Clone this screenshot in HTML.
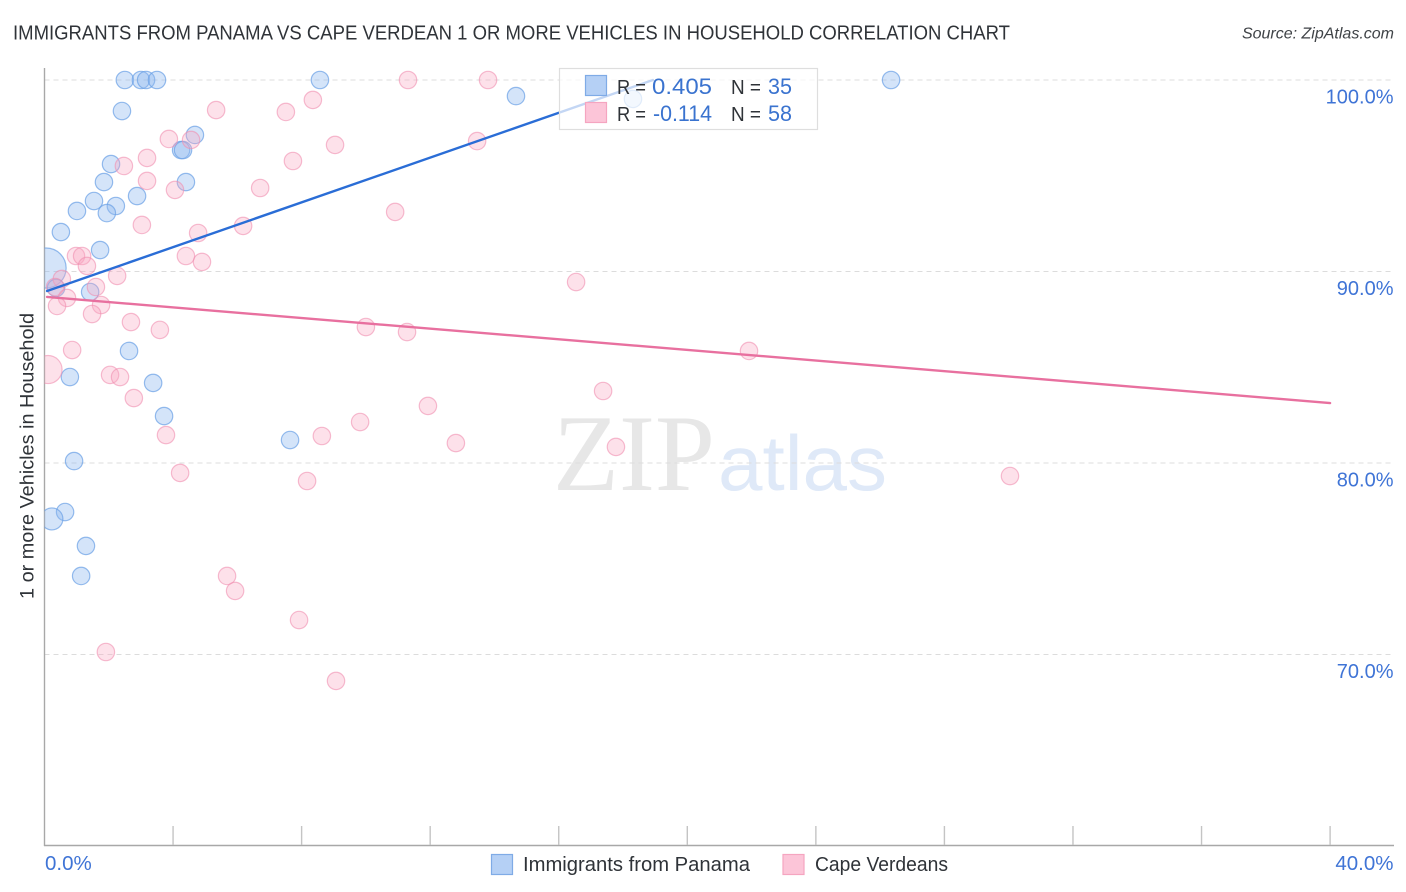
<!DOCTYPE html>
<html lang="en">
<head>
<meta charset="utf-8">
<title>Immigrants from Panama vs Cape Verdean correlation chart</title>
<style>
html,body{margin:0;padding:0;background:#fff;width:1406px;height:892px;overflow:hidden}
svg{display:block;font-family:"Liberation Sans",sans-serif}
</style>
</head>
<body>
<svg id="chart" xmlns="http://www.w3.org/2000/svg" width="1406" height="892" viewBox="0 0 1406 892">
  <defs>
    <clipPath id="plot-clip"><rect x="44.5" y="60" width="1350" height="786"/></clipPath>
  </defs>
  <text x="13" y="39.5" font-size="20" fill="#2f3338" textLength="997" lengthAdjust="spacingAndGlyphs">IMMIGRANTS FROM PANAMA VS CAPE VERDEAN 1 OR MORE VEHICLES IN HOUSEHOLD CORRELATION CHART</text>
  <text x="1394" y="38.5" font-size="16" font-style="italic" fill="#3f4347" text-anchor="end">Source: ZipAtlas.com</text>

  <g>
    <text x="553" y="490" font-family="'Liberation Serif',serif" font-size="109" fill="#e7e7e7" textLength="162" lengthAdjust="spacingAndGlyphs">ZIP</text>
    <text x="718" y="490" font-size="78" fill="#dfe9f8" textLength="169" lengthAdjust="spacingAndGlyphs">atlas</text>
  </g>

  <g id="grid"></g>
  <g id="axes"></g>
  <g id="points-blue" clip-path="url(#plot-clip)"></g>
  <g id="points-pink" clip-path="url(#plot-clip)"></g>
  <g id="trends"></g>
  <g id="labels"></g>

  <text transform="translate(33.5 456) rotate(-90)" font-size="19.5" fill="#2f3338" text-anchor="middle" textLength="286" lengthAdjust="spacingAndGlyphs">1 or more Vehicles in Household</text>

  <g>
    <rect x="559.5" y="68.5" width="258" height="61" fill="#fff" fill-opacity="0.72" stroke="#dedede" stroke-width="1.2"/>
    <rect x="585.5" y="75.5" width="21" height="20" fill="#b5d0f5" stroke="#7fabe6" stroke-width="1.2"/>
    <rect x="585.5" y="102.5" width="21" height="20" fill="#fcc5d8" stroke="#f5a5c0" stroke-width="1.2"/>
    <text x="617" y="94" font-size="20" fill="#2f3338" textLength="29" lengthAdjust="spacingAndGlyphs">R =</text>
    <text x="652" y="94" font-size="22" fill="#3a73cf" textLength="60" lengthAdjust="spacingAndGlyphs">0.405</text>
    <text x="731" y="94" font-size="20" fill="#2f3338" textLength="30" lengthAdjust="spacingAndGlyphs">N =</text>
    <text x="768" y="94" font-size="22" fill="#3a73cf" textLength="24" lengthAdjust="spacingAndGlyphs">35</text>
    <text x="617" y="121" font-size="20" fill="#2f3338" textLength="29" lengthAdjust="spacingAndGlyphs">R =</text>
    <text x="653" y="121" font-size="22" fill="#3a73cf" textLength="59" lengthAdjust="spacingAndGlyphs">-0.114</text>
    <text x="731" y="121" font-size="20" fill="#2f3338" textLength="30" lengthAdjust="spacingAndGlyphs">N =</text>
    <text x="768" y="121" font-size="22" fill="#3a73cf" textLength="24" lengthAdjust="spacingAndGlyphs">58</text>
  </g>

  <g>
    <rect x="491.5" y="854.5" width="21" height="20" fill="#b5d0f5" stroke="#7fabe6" stroke-width="1.2"/>
    <text x="523" y="871" font-size="20" fill="#2f3338" textLength="227" lengthAdjust="spacingAndGlyphs">Immigrants from Panama</text>
    <rect x="783" y="854.5" width="21" height="20" fill="#fcc5d8" stroke="#f5a5c0" stroke-width="1.2"/>
    <text x="815" y="871" font-size="20" fill="#2f3338" textLength="133" lengthAdjust="spacingAndGlyphs">Cape Verdeans</text>
  </g>
</svg>

<script>
const yTicks = [100, 90, 80, 70];
const yTickLabels = ["100.0%", "90.0%", "80.0%", "70.0%"];
const xTicks = [4, 8, 12, 16, 20, 24, 28, 32, 36, 40];
const xEndTicks = [0, 40];
const xEndLabels = ["0.0%", "40.0%"];

const panamaX = [2.50,3.00,3.16,3.50,8.57,26.34,14.67,18.31,2.41,4.68,4.25,4.31,2.07,4.40,1.85,1.54,2.88,2.22,1.01,1.94,0.51,1.73,0.05,0.36,1.42,2.63,0.79,3.38,3.72,7.64,0.92,0.64,0.23,1.29,1.14];
const panamaY = [100,100,100,100,100,100,99.16,99.01,98.38,97.13,96.34,96.34,95.61,94.67,94.67,93.68,93.94,93.42,93.16,93.05,92.06,91.12,90.18,89.14,88.93,85.85,84.49,84.18,82.45,81.20,80.10,77.44,77.08,75.67,74.10];
const panamaWeight = [1,1,1,1,1,1,1,1,1,1,1,1,1,1,1,1,1,1,1,1,1,1,5.3,1,1,1,1,1,1,1,1,1,1.6,1,1];

const capeX = [11.31,13.80,8.35,7.51,5.34,9.04,13.46,3.87,4.56,3.19,2.47,7.73,3.19,4.06,6.71,10.91,3.03,4.78,6.18,4.40,4.90,0.98,1.17,1.32,0.54,2.26,16.54,0.33,1.60,0.70,0.39,1.76,1.48,2.69,3.59,10.00,11.28,0.86,21.92,0.11,2.04,2.35,17.38,2.78,11.93,9.82,8.63,3.78,12.80,17.78,4.22,8.17,30.04,5.68,5.93,7.92,1.91,9.07];
const capeY = [100,100,98.96,98.33,98.43,96.61,96.81,96.92,96.87,95.93,95.51,95.77,94.73,94.26,94.36,93.11,92.43,92.01,92.38,90.81,90.50,90.81,90.81,90.29,89.61,89.77,89.45,89.19,89.19,88.62,88.20,88.25,87.78,87.36,86.95,87.10,86.84,85.90,85.85,84.88,84.60,84.49,83.76,83.39,82.98,82.14,81.41,81.46,81.04,80.84,79.48,79.06,79.32,74.10,73.32,71.80,70.13,68.62];
const capeWeight = [1,1,1,1,1,1,1,1,1,1,1,1,1,1,1,1,1,1,1,1,1,1,1,1,1,1,1,1,1,1,1,1,1,1,1,1,1,1,1,2.6,1,1,1,1,1,1,1,1,1,1,1,1,1,1,1,1,1,1];

const panamaTrendX = [0.08, 18.93];
const panamaTrendY = [88.98, 100];
const capeTrendX = [0.08, 40];
const capeTrendY = [88.67, 83.13];

const NS = "http://www.w3.org/2000/svg";
const xScale = v => 44.5 + v * (1330.1 - 44.5) / 40;
const yScale = v => 80 + (100 - v) * (654.5 - 80) / 30;
const radius = w => 8.7 * Math.sqrt(w);
const make = (tag, attrs, parent) => {
  const el = document.createElementNS(NS, tag);
  for (const k in attrs) el.setAttribute(k, attrs[k]);
  parent.appendChild(el);
  return el;
};

const grid = document.getElementById("grid");
const axes = document.getElementById("axes");
const labels = document.getElementById("labels");

yTicks.forEach((t, i) => {
  const line = make("line", {x1: 44.5, x2: 1394, y1: yScale(t), y2: yScale(t), stroke: "#dcdcdc", "stroke-width": 1, "stroke-dasharray": "5 4"}, grid);
  
  
  const label = make("text", {x: 1393.5, y: yScale(t) + 23.5, "font-size": 20, fill: "#3f74d6", "text-anchor": "end"}, labels);
  
  
  label.textContent = yTickLabels[i];
});

const yAxis = make("line", {x1: 44.5, x2: 44.5, y1: 68, y2: 846, stroke: "#a8a8a8", "stroke-width": 1.4}, axes);


const xAxis = make("line", {x1: 44, x2: 1394, y1: 845.5, y2: 845.5, stroke: "#a8a8a8", "stroke-width": 1.4}, axes);



xTicks.forEach(t => {
  const tick = make("line", {x1: xScale(t), x2: xScale(t), y1: 826, y2: 845, stroke: "#c4c4c4", "stroke-width": 1.4}, axes);
  
  
});

xEndTicks.forEach((t, i) => {
  const label = make("text", {x: i === 0 ? 45 : 1393.5, y: 870, "font-size": 20.5, fill: "#3f74d6", "text-anchor": i === 0 ? "start" : "end"}, labels);
  
  
  label.textContent = xEndLabels[i];
});

const bluePoints = document.getElementById("points-blue");
panamaX.forEach((x, i) => {
  const dot = make("circle", {cx: xScale(x), cy: yScale(panamaY[i]), r: radius(panamaWeight[i]), fill: "#8db8f0", "fill-opacity": 0.38, stroke: "#6a9fe6", "stroke-opacity": 0.7, "stroke-width": 1.2}, bluePoints);
  
  
});

const pinkPoints = document.getElementById("points-pink");
capeX.forEach((x, i) => {
  const dot = make("circle", {cx: xScale(x), cy: yScale(capeY[i]), r: radius(capeWeight[i]), fill: "#f8a8c2", "fill-opacity": 0.34, stroke: "#f090b0", "stroke-opacity": 0.6, "stroke-width": 1.2}, pinkPoints);
  
  
});

const trends = document.getElementById("trends");
const blueTrend = make("line", {x1: xScale(panamaTrendX[0]), y1: yScale(panamaTrendY[0]), x2: xScale(panamaTrendX[1]), y2: yScale(panamaTrendY[1]), stroke: "#2a6dd6", "stroke-width": 2.4, "stroke-linecap": "round"}, trends);


const pinkTrend = make("line", {x1: xScale(capeTrendX[0]), y1: yScale(capeTrendY[0]), x2: xScale(capeTrendX[1]), y2: yScale(capeTrendY[1]), stroke: "#e8709f", "stroke-width": 2.4, "stroke-linecap": "round"}, trends);


</script>
</body>
</html>
